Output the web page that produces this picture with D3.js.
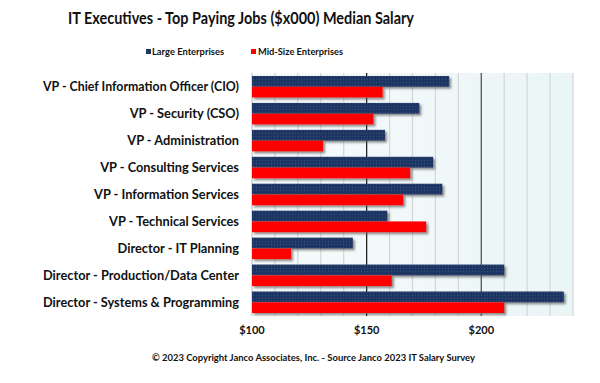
<!DOCTYPE html>
<html>
<head>
<meta charset="utf-8">
<script src="https://cdn.jsdelivr.net/npm/d3@7"></script>
<style>
  html, body { margin: 0; padding: 0; background: #ffffff; }
  svg { display: block; }
  text { font-family: Lato, "Open Sans", sans-serif; font-weight: bold; fill: #111; }
</style>
</head>
<body>
<svg id="chart" width="600" height="383"></svg>
<script>
const categories = [
  "VP - Chief Information Officer (CIO)",
  "VP - Security (CSO)",
  "VP - Administration",
  "VP - Consulting Services",
  "VP - Information Services",
  "VP - Technical Services",
  "Director - IT Planning",
  "Director - Production/Data Center",
  "Director - Systems & Programming"
];
const largeValues = [186, 173, 158, 179, 183, 159, 144, 210, 236];
const midValues   = [157, 153, 131, 169, 166, 176, 117, 161, 210];
const seriesNames = ["Large Enterprises", "Mid-Size Enterprises"];
const tickValues = [100, 150, 200];
const gridValues = [110, 120, 130, 140, 160, 170, 180, 190, 210, 220, 230, 240];
const titleText = "IT Executives - Top Paying Jobs ($x000) Median Salary";
const footerText = "© 2023 Copyright Janco Associates, Inc. - Source Janco 2023 IT Salary Survey";

const svg = d3.select("#chart");
const plot = { left: 252, right: 573, top: 73, bottom: 316 };
const navy = "#1f3563", red = "#ff0000";

const defs = svg.append("defs");
const bg = defs.append("linearGradient").attr("id", "bgGrad").attr("x1", "0").attr("x2", "1").attr("y1", "0").attr("y2", "0");
bg.append("stop").attr("offset", "0").attr("stop-color", "#f7fbfc");
bg.append("stop").attr("offset", "1").attr("stop-color", "#eaf5f6");

const pat = defs.append("pattern").attr("id", "dots").attr("patternUnits", "userSpaceOnUse").attr("width", 3).attr("height", 3);
pat.append("rect").attr("width", 3).attr("height", 3).attr("fill", navy);
pat.append("rect").attr("x", 1).attr("y", 1).attr("width", 1).attr("height", 1).attr("fill", "#35507f");

const f = defs.append("filter").attr("id", "shadow").attr("x", "-5%").attr("y", "-30%").attr("width", "115%").attr("height", "180%");
f.append("feDropShadow").attr("dx", 2).attr("dy", 2).attr("stdDeviation", 1.1).attr("flood-color", "#555").attr("flood-opacity", 0.65);

const x = d3.scaleLinear().domain([100, 240]).range([plot.left, plot.right]);
const y = d3.scaleBand().domain(categories).range([plot.top, plot.bottom]).paddingInner(0.2).paddingOuter(0.11);
const sub = d3.scaleBand().domain(seriesNames).range([0, y.bandwidth()]).padding(0);

svg.append("rect").attr("x", plot.left).attr("y", plot.top)
  .attr("width", plot.right - plot.left).attr("height", plot.bottom - plot.top)
  .attr("fill", "url(#bgGrad)");

svg.append("g").selectAll("line").data(gridValues).join("line")
  .attr("x1", d => x(d)).attr("x2", d => x(d))
  .attr("y1", plot.top).attr("y2", plot.bottom)
  .attr("stroke", "#d4d6d6").attr("stroke-width", 1.2);

svg.append("g").selectAll("line").data(tickValues.slice(1)).join("line")
  .attr("x1", d => x(d)).attr("x2", d => x(d))
  .attr("y1", plot.top).attr("y2", plot.bottom)
  .attr("stroke", (d, i) => i === 0 ? "#222" : "#555").attr("stroke-width", 1.3);

svg.append("line").attr("x1", plot.left).attr("x2", plot.left).attr("y1", plot.top).attr("y2", plot.bottom)
  .attr("stroke", "#bbb").attr("stroke-width", 1);

const data = categories.map((c, i) => ({ c, large: largeValues[i], mid: midValues[i] }));
const bars = svg.append("g").attr("filter", "url(#shadow)");
bars.selectAll("rect.large").data(data).join("rect").attr("class", "large")
  .attr("x", x(100)).attr("y", d => y(d.c) + sub(seriesNames[0]))
  .attr("width", d => x(d.large) - x(100)).attr("height", sub.bandwidth())
  .attr("fill", "url(#dots)");
bars.selectAll("rect.mid").data(data).join("rect").attr("class", "mid")
  .attr("x", x(100)).attr("y", d => y(d.c) + sub(seriesNames[1]))
  .attr("width", d => x(d.mid) - x(100)).attr("height", sub.bandwidth())
  .attr("fill", red);

svg.append("g").selectAll("text").data(categories).join("text")
  .attr("x", 239).attr("y", d => y(d) + y.bandwidth() / 2)
  .attr("dy", "0.36em").attr("text-anchor", "end")
  .attr("font-size", 12.8)
  .text(d => d)
  .each(function () {
    const len = this.getComputedTextLength();
    if (len > 196) d3.select(this).attr("textLength", 196).attr("lengthAdjust", "spacingAndGlyphs");
  });

svg.append("g").selectAll("text").data(tickValues).join("text")
  .attr("x", d => x(d)).attr("y", 334).attr("text-anchor", "middle")
  .attr("font-size", 11).text(d => "$" + d);

svg.append("text").attr("x", 241).attr("y", 24).attr("text-anchor", "middle")
  .attr("font-size", 17).attr("textLength", 346).attr("lengthAdjust", "spacingAndGlyphs").text(titleText);

const legendPos = [{ sx: 146, tx: 152, w: 72 }, { sx: 251, tx: 258, w: 85 }];
const leg = svg.append("g");
seriesNames.forEach((s, i) => {
  leg.append("rect").attr("x", legendPos[i].sx).attr("y", 49).attr("width", 5).attr("height", 5)
    .attr("fill", i === 0 ? navy : red);
  leg.append("text").attr("x", legendPos[i].tx).attr("y", 55).attr("font-size", 9.5)
    .attr("textLength", legendPos[i].w).attr("lengthAdjust", "spacingAndGlyphs").text(s);
});

svg.append("text").attr("x", 152).attr("y", 361).attr("font-size", 9.5)
  .attr("textLength", 323).attr("lengthAdjust", "spacingAndGlyphs").text(footerText);
</script>
</body>
</html>
